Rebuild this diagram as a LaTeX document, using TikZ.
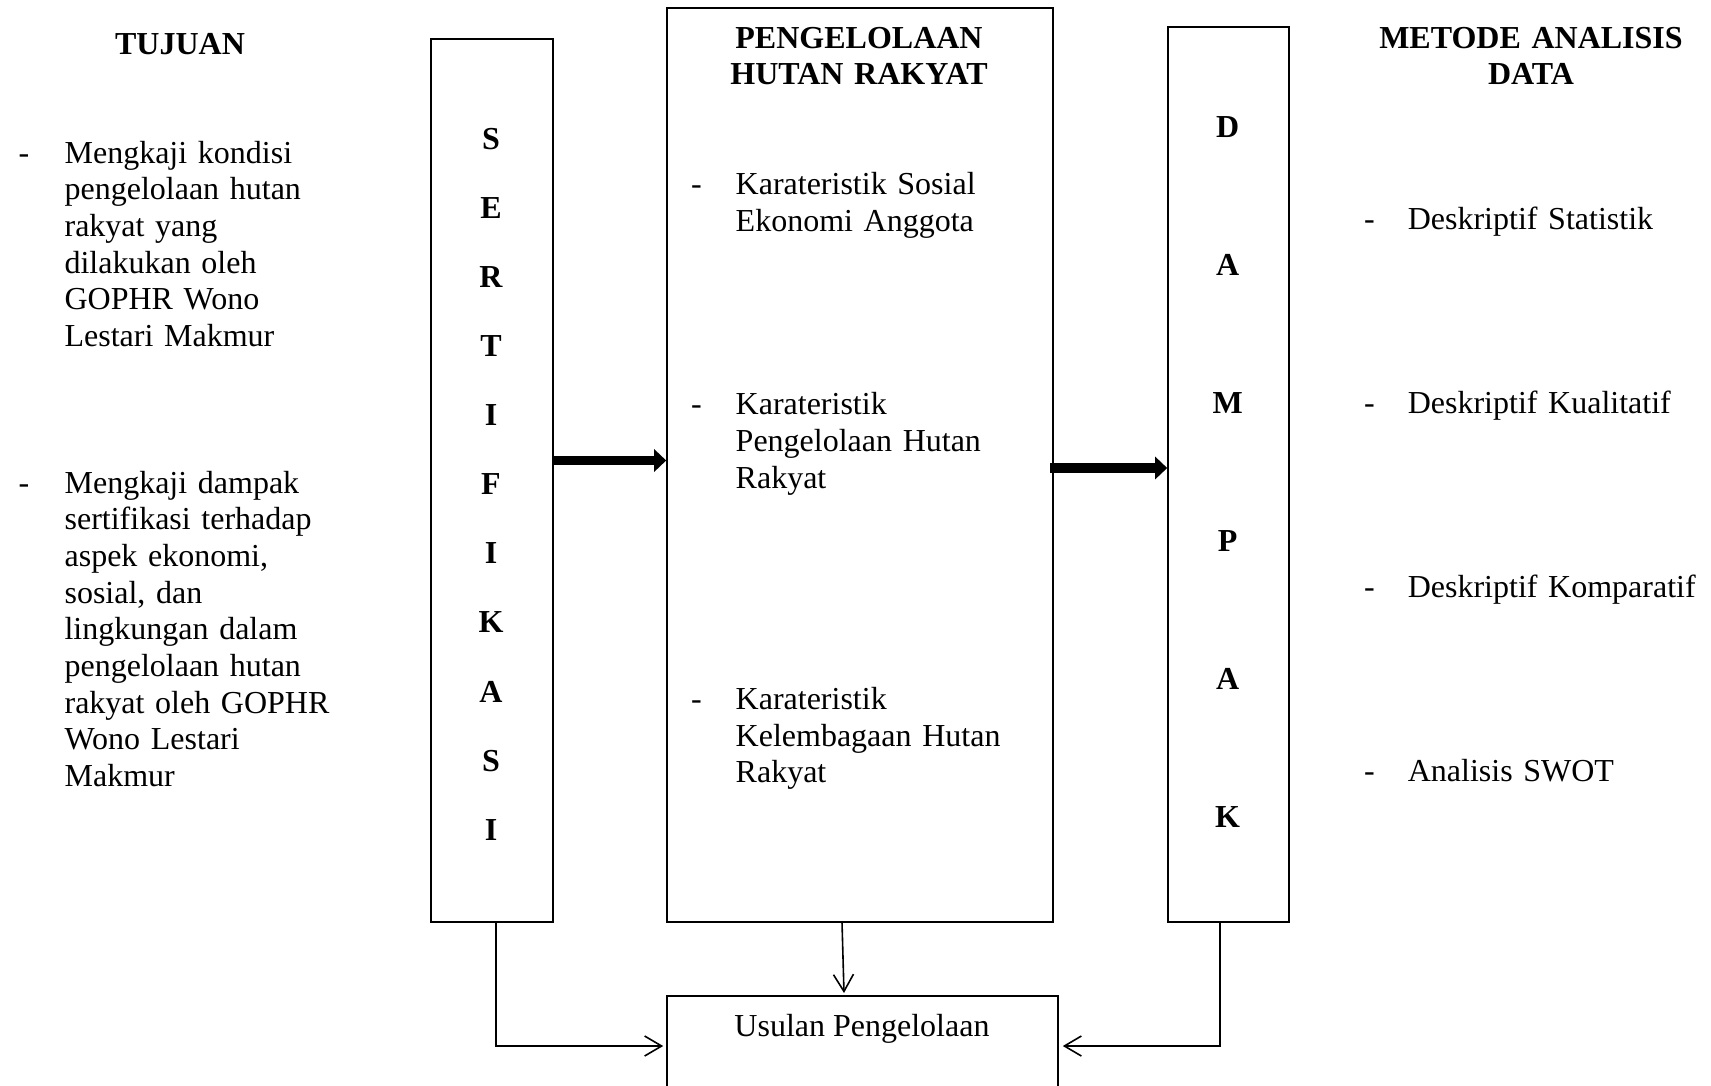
\documentclass[tikz,border=0pt]{standalone}
\usepackage{fontspec}
\setmainfont{Liberation Serif}
\usetikzlibrary{arrows.meta}
\begin{document}
\begin{tikzpicture}[x=1pt,y=-1pt,
  box/.style={draw, line width=1.6pt, inner sep=0pt},
  txt/.style={font=\fontsize{32}{36.7}\selectfont, inner sep=0pt, anchor=base west, align=left, text width=#1},
  txt/.default=330pt,
  ttl/.style={font=\fontsize{32}{36.7}\selectfont\bfseries, inner sep=0pt, anchor=base, align=center, text width=400pt},
  bul/.style={font=\fontsize{32}{36.7}\selectfont, inner sep=0pt, anchor=base west},
  lt/.style={font=\fontsize{32}{36.7}\selectfont\bfseries, inner sep=0pt, anchor=base},
  thick arrow/.style={line width=#1, -{Triangle[length=12pt,width=22pt]}},
  thin arrow/.style={line width=1.6pt, -{Straight Barb[length=17pt,width=20pt,line width=1.6pt]}},
  conn/.style={line width=1.6pt}
]
\path[use as bounding box, clip] (0,0) rectangle (1711,1085);

% boxes
\node[box, minimum width=122pt, minimum height=883pt] (S) at (492,480.5) {};
\node[box, minimum width=386pt, minimum height=914pt] (P) at (860,465) {};
\node[box, minimum width=121pt, minimum height=895pt] (D) at (1228.5,474.5) {};
\node[box, minimum width=391pt, minimum height=200pt, anchor=north] (U) at (862.5,995) {};

% TUJUAN column
\node[ttl] (tuj) at (180,54) {TUJUAN};
\node[bul] (bl1) at (18.5,163) {-};
\node[txt] (l1) at (64.4,163) {Mengkaji kondisi\\pengelolaan hutan\\rakyat yang\\dilakukan oleh\\GOPHR Wono\\Lestari Makmur};
\node[bul] (bl2) at (18.5,493) {-};
\node[txt] (l2) at (64.4,493) {Mengkaji dampak\\sertifikasi terhadap\\aspek ekonomi,\\sosial, dan\\lingkungan dalam\\pengelolaan hutan\\rakyat oleh GOPHR\\Wono Lestari\\Makmur};

% SERTIFIKASI letters
\foreach \ch [count=\i from 0] in {S,E,R,T,I,F,I,K,A,S,I} {
  \node[lt] (s\i) at (491,{149.2+69.1*\i}) {\ch};
}

% PHR
\node[ttl] (ptitle) at (859,48) {PENGELOLAAN\\HUTAN RAKYAT};
\node[bul] (pb1) at (691,194.4) {-};
\node[txt] (p1) at (735.5,194.4) {Karateristik Sosial\\Ekonomi Anggota};
\node[bul] (pb2) at (691,414.8) {-};
\node[txt] (p2) at (735.5,414.8) {Karateristik\\Pengelolaan Hutan\\Rakyat};
\node[bul] (pb3) at (691,709.5) {-};
\node[txt] (p3) at (735.5,709.5) {Karateristik\\Kelembagaan Hutan\\Rakyat};

% DAMPAK letters
\foreach \ch [count=\i from 0] in {D,A,M,P,A,K} {
  \node[lt] (d\i) at (1227.6,{137.2+138.1*\i}) {\ch};
}

% METODE
\node[ttl] (mtitle) at (1531,48) {METODE ANALISIS\\DATA};
\node[bul] (mb1) at (1364,229.3) {-};
\node[txt=300pt] (m1) at (1407.6,229.3) {Deskriptif Statistik};
\node[bul] (mb2) at (1364,413.7) {-};
\node[txt=300pt] (m2) at (1407.6,413.7) {Deskriptif Kualitatif};
\node[bul] (mb3) at (1364,597) {-};
\node[txt=300pt] (m3) at (1407.6,597) {Deskriptif Komparatif};
\node[bul] (mb4) at (1364,781.5) {-};
\node[txt=300pt] (m4) at (1407.6,781.5) {Analisis SWOT};

% Usulan
\node[font=\fontsize{32}{36.7}\selectfont, inner sep=0pt, anchor=base] (ut) at (862,1036) {Usulan Pengelolaan};

% thick arrows
\draw[thick arrow=9pt] (S.east |- 0,460.5) -- (P.west |- 0,460.5);
\draw[thick arrow=10pt] (1050,468) -- (D.west |- 0,468);

% thin connectors
\coordinate (sb) at (496,922);
\coordinate (sc) at (496,1046);
\draw[thin arrow] (sb) -- (sc) -- ([xshift=-3pt]U.west |- sc);
\coordinate (pb) at (842,922);
\coordinate (pt) at (844,993);
\draw[thin arrow] (pb) -- (pt);
\coordinate (db) at (1220,922);
\coordinate (dc) at (1220,1046);
\draw[thin arrow] (db) -- (dc) -- ([xshift=4pt]U.east |- dc);
\end{tikzpicture}
\end{document}
